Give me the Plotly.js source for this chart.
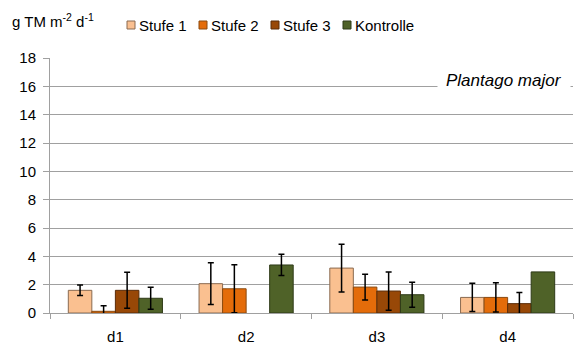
<!DOCTYPE html>
<html>
<head>
<meta charset="utf-8">
<script src="https://cdn.plot.ly/plotly-3.0.1.min.js"></script>
<style>
  html, body { margin: 0; padding: 0; background: #fff; }
  #chart { width: 575px; height: 349px; }
</style>
</head>
<body>
<div id="chart"></div>
<script>
// Sampling days
const days = ['d1', 'd2', 'd3', 'd4'];

// Dry matter production, g TM m-2 d-1 (mean and error; NaN = no error bar)
const stufe1 = [1.6, 2.07, 3.17, 1.1];
const stufe1Err = [0.37, 1.47, 1.68, 1.0];
const stufe2 = [0.12, 1.71, 1.83, 1.1];
const stufe2Err = [0.4, 1.7, 0.91, 1.03];
const stufe3 = [1.6, null, 1.55, 0.66];
const stufe3Err = [1.27, NaN, 1.35, 0.78];
const kontrolle = [1.04, 3.39, 1.29, 2.9];
const kontrolleErr = [0.77, 0.75, 0.88, NaN];

const seriesNames = ['Stufe 1', 'Stufe 2', 'Stufe 3', 'Kontrolle'];
const fillColors = ['#FAC090', '#E46C0A', '#984807', '#4F6228'];
const edgeColors = ['#8a6a50', '#8a4a10', '#5a2c08', '#2e3a18'];

const values = [stufe1, stufe2, stufe3, kontrolle];
const errors = [stufe1Err, stufe2Err, stufe3Err, kontrolleErr];

// Plot area geometry (px) used to place the compact key above the plot
const W = 575, H = 349;
const M = { l: 50, r: 2, t: 58, b: 36 };
const plotW = W - M.l - M.r, plotH = H - M.t - M.b;
const px2x = px => (px - M.l) / plotW;
const px2y = py => (H - M.b - py) / plotH;

const traces = values.map((v, i) => ({
  type: 'bar',
  name: seriesNames[i],
  x: days,
  y: v,
  showlegend: false,
  marker: { color: fillColors[i], line: { color: edgeColors[i], width: 1 } },
  error_y: {
    type: 'data',
    array: errors[i],
    visible: true,
    color: '#000',
    thickness: 1.5,
    width: 3
  }
}));

// Compact key: small outlined swatch followed by the series name
const keyStart = 127, keyStep = 72, keyY = 25, swatch = 8;
const keyShapes = seriesNames.map((n, i) => ({
  type: 'rect',
  xref: 'paper', yref: 'paper',
  x0: px2x(keyStart + keyStep * i),
  x1: px2x(keyStart + keyStep * i + swatch),
  y0: px2y(keyY + swatch / 2),
  y1: px2y(keyY - swatch / 2),
  fillcolor: fillColors[i],
  line: { color: edgeColors[i], width: 1 }
}));
const keyLabels = seriesNames.map((n, i) => ({
  text: n,
  xref: 'paper', yref: 'paper',
  x: px2x(keyStart + keyStep * i + swatch + 2),
  y: px2y(keyY),
  xanchor: 'left', yanchor: 'middle',
  showarrow: false,
  font: { size: 15 }
}));

const layout = {
  width: W,
  height: H,
  margin: M,
  paper_bgcolor: '#fff',
  plot_bgcolor: '#fff',
  font: { family: 'Liberation Sans, Arial, sans-serif', color: '#000', size: 14 },
  barmode: 'group',
  bargap: 0.28,
  bargroupgap: 0,
  showlegend: false,
  xaxis: {
    type: 'category',
    showline: true,
    linecolor: '#a0a0a0',
    linewidth: 1,
    ticks: 'outside',
    tickson: 'boundaries',
    ticklen: 5,
    tickcolor: '#a0a0a0',
    showgrid: false,
    ticklabelstandoff: 10,
    tickfont: { size: 15 }
  },
  yaxis: {
    range: [0, 18],
    dtick: 2,
    showline: true,
    linecolor: '#a0a0a0',
    linewidth: 1,
    ticks: 'outside',
    ticklen: 6,
    tickcolor: '#a0a0a0',
    gridcolor: '#a0a0a0',
    gridwidth: 1,
    zeroline: false,
    ticklabelstandoff: 4,
    tickfont: { size: 15 }
  },
  shapes: keyShapes,
  annotations: [
    {
      text: 'g TM m<sup>-2</sup> d<sup>-1</sup>',
      xref: 'paper', yref: 'paper',
      x: px2x(10), y: px2y(20),
      xanchor: 'left', yanchor: 'middle',
      showarrow: false,
      font: { size: 15 }
    },
    {
      text: '<i>Plantago major</i>',
      xref: 'paper', yref: 'paper',
      x: px2x(571), y: px2y(80),
      xanchor: 'right', yanchor: 'middle',
      showarrow: false,
      bgcolor: '#fff',
      borderpad: 8,
      font: { size: 17 }
    }
  ].concat(keyLabels)
};

Plotly.newPlot('chart', traces, layout, { displayModeBar: false, staticPlot: true });
</script>
</body>
</html>
